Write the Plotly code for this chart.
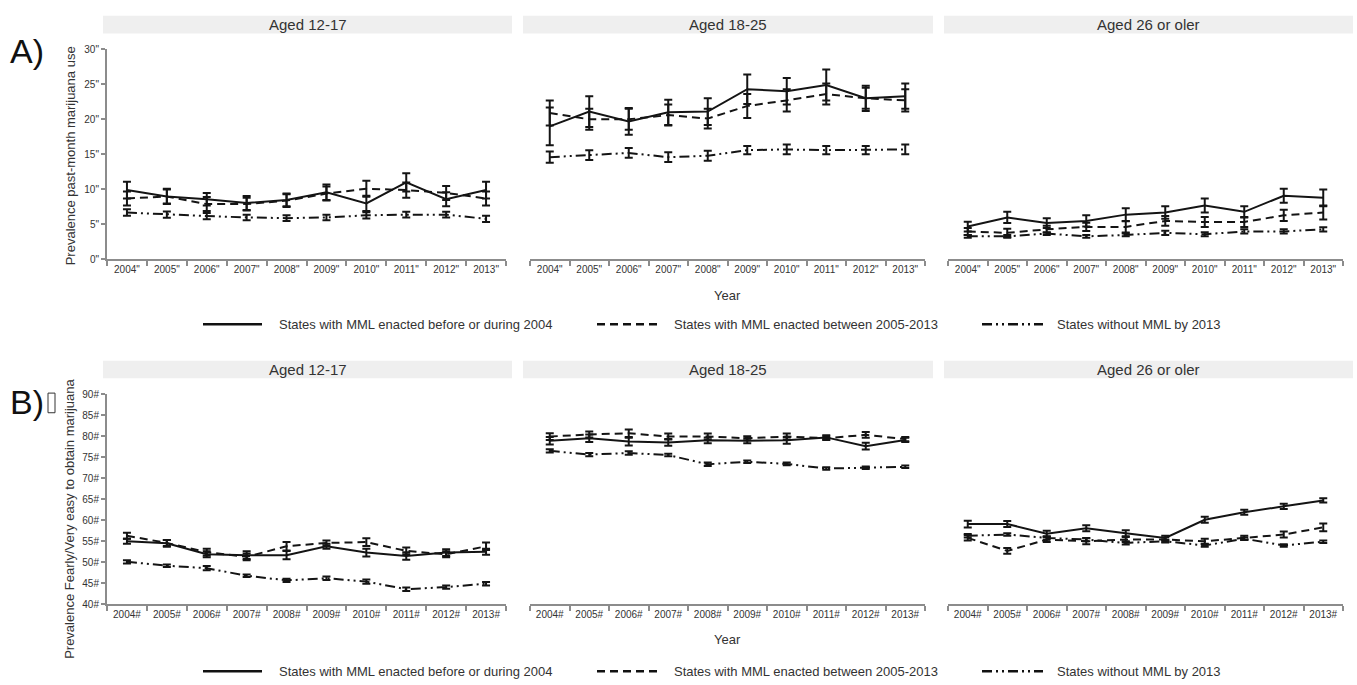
import plotly.graph_objects as go

W, H = 1357, 685

years = [2004, 2005, 2006, 2007, 2008, 2009, 2010, 2011, 2012, 2013]
ticks_a = [f'{y}"' for y in years]
ticks_b = [f'{y}#' for y in years]
age_groups = ["Aged 12-17", "Aged 18-25", "Aged 26 or oler"]
series_names = ["States with MML enacted before or during 2004",
                "States with MML enacted between 2005-2013",
                "States without MML by 2013"]

# Panel A: prevalence of past-month marijuana use (%)
a_1217_before = [9.9, 9.0, 8.6, 8.05, 8.5, 9.6, 8.0, 11.0, 8.6, 9.9]
a_1217_between = [8.7, 9.0, 7.9, 7.9, 8.4, 9.4, 10.1, 9.9, 9.5, 8.7]
a_1217_without = [6.7, 6.4, 6.2, 6.0, 5.9, 6.0, 6.3, 6.4, 6.4, 5.8]
a_1217_before_err = [1.2, 1.1, 0.9, 1.0, 0.9, 1.1, 1.1, 1.3, 1.0, 1.2]
a_1217_between_err = [1.0, 1.0, 1.0, 0.9, 0.9, 1.0, 1.15, 1.1, 1.0, 1.0]
a_1217_without_err = [0.45, 0.45, 0.45, 0.4, 0.4, 0.4, 0.45, 0.4, 0.4, 0.45]

a_1825_before = [19.0, 21.1, 19.7, 21.0, 21.1, 24.3, 24.0, 24.9, 23.0, 23.3]
a_1825_between = [20.9, 20.0, 20.0, 20.6, 20.1, 21.9, 22.7, 23.6, 23.0, 22.7]
a_1825_without = [14.6, 14.9, 15.2, 14.6, 14.8, 15.6, 15.7, 15.6, 15.6, 15.7]
a_1825_before_err = [2.7, 2.2, 1.9, 1.8, 1.9, 2.1, 1.9, 2.2, 1.8, 1.8]
a_1825_between_err = [1.8, 1.5, 1.5, 1.5, 1.4, 1.7, 1.6, 1.5, 1.5, 1.6]
a_1825_without_err = [0.8, 0.7, 0.7, 0.7, 0.7, 0.6, 0.7, 0.6, 0.6, 0.7]

a_26_before = [4.7, 6.0, 5.2, 5.5, 6.4, 6.7, 7.7, 6.8, 9.1, 8.8]
a_26_between = [4.0, 3.8, 4.3, 4.65, 4.65, 5.5, 5.35, 5.35, 6.3, 6.7]
a_26_without = [3.3, 3.3, 3.7, 3.3, 3.5, 3.8, 3.6, 4.0, 4.0, 4.3]
a_26_before_err = [0.7, 0.8, 0.7, 0.8, 0.9, 0.9, 1.0, 0.8, 1.0, 1.2]
a_26_between_err = [0.5, 0.6, 0.5, 0.6, 0.8, 0.7, 0.7, 0.7, 0.8, 1.0]
a_26_without_err = [0.2, 0.2, 0.2, 0.2, 0.2, 0.3, 0.3, 0.3, 0.3, 0.3]

# Panel B: prevalence fairly/very easy to obtain marijuana (%)
b_1217_before = [55.0, 54.5, 51.9, 51.7, 51.7, 53.8, 52.3, 51.5, 52.3, 52.5]
b_1217_between = [56.3, 54.6, 52.4, 51.3, 53.8, 54.6, 54.8, 52.7, 51.9, 53.8]
b_1217_without = [50.1, 49.2, 48.6, 46.8, 45.7, 46.2, 45.4, 43.6, 44.1, 44.9]
b_1217_before_err = [0.6, 0.8, 0.7, 0.9, 1.0, 0.6, 0.9, 0.9, 0.8, 0.7]
b_1217_between_err = [0.7, 0.7, 0.8, 0.8, 1.0, 0.6, 0.9, 0.8, 0.7, 0.9]
b_1217_without_err = [0.4, 0.3, 0.5, 0.3, 0.4, 0.4, 0.5, 0.4, 0.4, 0.4]

b_1825_before = [78.9, 79.5, 78.7, 78.5, 79.0, 78.9, 79.0, 79.7, 77.6, 79.1]
b_1825_between = [79.9, 80.4, 80.7, 79.9, 79.9, 79.5, 79.9, 79.5, 80.3, 79.3]
b_1825_without = [76.5, 75.6, 76.0, 75.5, 73.3, 73.9, 73.4, 72.3, 72.5, 72.7]
b_1825_before_err = [0.9, 0.9, 0.9, 0.8, 0.7, 0.6, 0.8, 0.5, 0.8, 0.5]
b_1825_between_err = [0.8, 0.7, 0.9, 0.7, 0.7, 0.5, 0.7, 0.4, 0.7, 0.5]
b_1825_without_err = [0.4, 0.4, 0.4, 0.3, 0.4, 0.3, 0.3, 0.3, 0.3, 0.3]

b_26_before = [59.1, 59.1, 56.8, 58.1, 56.9, 55.8, 60.1, 61.9, 63.3, 64.7]
b_26_between = [55.8, 52.7, 55.4, 55.0, 55.4, 55.4, 55.0, 55.8, 56.6, 58.3]
b_26_without = [56.3, 56.6, 55.8, 55.4, 54.6, 55.0, 54.0, 55.6, 54.0, 54.9]
b_26_before_err = [0.8, 0.7, 0.7, 0.7, 0.7, 0.5, 0.7, 0.6, 0.6, 0.5]
b_26_between_err = [0.6, 0.7, 0.6, 0.7, 0.6, 0.5, 0.6, 0.5, 0.7, 0.9]
b_26_without_err = [0.4, 0.3, 0.4, 0.4, 0.4, 0.3, 0.3, 0.3, 0.3, 0.3]

a_yticks = [0, 5, 10, 15, 20, 25, 30]
b_yticks = [40, 45, 50, 55, 60, 65, 70, 75, 80, 85, 90]

panels = [
    (1, ticks_a, [a_1217_before, a_1217_between, a_1217_without],
     [a_1217_before_err, a_1217_between_err, a_1217_without_err]),
    (2, ticks_a, [a_1825_before, a_1825_between, a_1825_without],
     [a_1825_before_err, a_1825_between_err, a_1825_without_err]),
    (3, ticks_a, [a_26_before, a_26_between, a_26_without],
     [a_26_before_err, a_26_between_err, a_26_without_err]),
    (4, ticks_b, [b_1217_before, b_1217_between, b_1217_without],
     [b_1217_before_err, b_1217_between_err, b_1217_without_err]),
    (5, ticks_b, [b_1825_before, b_1825_between, b_1825_without],
     [b_1825_before_err, b_1825_between_err, b_1825_without_err]),
    (6, ticks_b, [b_26_before, b_26_between, b_26_without],
     [b_26_before_err, b_26_between_err, b_26_without_err]),
]

DASHES = ["solid", "8px,5px", "10px,4px,2px,4px,2px,4px"]
LINE_COL = "#141414"

fig = go.Figure()
for idx, xt, vals, errs in panels:
    sfx = "" if idx == 1 else str(idx)
    for s in range(3):
        fig.add_trace(go.Scatter(
            x=xt, y=vals[s], mode="lines", name=series_names[s],
            line=dict(color=LINE_COL, width=2, dash=DASHES[s]),
            error_y=dict(type="data", array=errs[s], visible=True,
                         color=LINE_COL, thickness=2, width=4),
            xaxis="x" + sfx, yaxis="y" + sfx, showlegend=False,
            hoverinfo="x+y"))

def px_x(p):
    return p / W

def px_y(p):
    return 1 - p / H

x_domains = [(107, 506), (530, 925), (948, 1343)]
y_dom_a = (258, 44)
y_dom_b = (609, 395)

layout = dict(width=W, height=H, margin=dict(l=0, r=0, t=0, b=0),
              paper_bgcolor="white", plot_bgcolor="white",
              font=dict(family="Liberation Sans, Arial", color="#333"),
              showlegend=False)

tick_font = dict(family="Liberation Sans, Arial", size=10, color="#333")

for idx in range(1, 7):
    sfx = "" if idx == 1 else str(idx)
    col = (idx - 1) % 3
    top = idx <= 3
    xd = x_domains[col]
    yd = y_dom_a if top else y_dom_b
    layout["xaxis" + sfx] = dict(
        domain=[px_x(xd[0]), px_x(xd[1])],
        anchor="y" + sfx, type="category",
        range=[-0.5, 9.5], showline=True, linecolor="#8c8c8c", linewidth=2,
        ticks="outside", tickson="boundaries", ticklen=5, tickwidth=2,
        tickcolor="#8c8c8c", showgrid=False, zeroline=False,
        tickfont=tick_font, fixedrange=True)
    yax = dict(
        domain=[px_y(yd[0]), px_y(yd[1])], anchor="x" + sfx,
        showgrid=False, zeroline=False, fixedrange=True)
    yax["range"] = [0, 30] if top else [40, 90]
    if col == 0:
        tv = a_yticks if top else b_yticks
        suffix = '"' if top else "#"
        yax.update(showline=True, linecolor="#8c8c8c", linewidth=2,
                   ticks="outside", ticklen=4, tickwidth=1.5,
                   tickcolor="#8c8c8c", tickvals=tv,
                   ticktext=[f"{v}{suffix}" for v in tv],
                   tickfont=tick_font)
    else:
        yax.update(visible=False)
    layout["yaxis" + sfx] = yax

shapes = []
annotations = []

strips = [(103, 512), (523, 933), (944, 1353)]
for row_top in (10, 361):
    for i, (x0, x1) in enumerate(strips):
        shapes.append(dict(type="rect", xref="paper", yref="paper",
                           x0=px_x(x0), x1=px_x(x1),
                           y0=px_y(row_top + 18), y1=px_y(row_top),
                           fillcolor="#efefef", line=dict(width=0),
                           layer="below"))
        annotations.append(dict(text=age_groups[i], xref="paper", yref="paper",
                                x=px_x((x0 + x1) / 2), y=px_y(row_top + 9),
                                showarrow=False, xanchor="center",
                                yanchor="middle",
                                font=dict(size=15, color="#333")))

annotations.append(dict(text="A)", xref="paper", yref="paper",
                        x=px_x(8), y=px_y(46), xanchor="left",
                        yanchor="middle", showarrow=False,
                        font=dict(size=34, color="#111",
                                  family="Liberation Sans, Arial")))
annotations.append(dict(text="B)", xref="paper", yref="paper",
                        x=px_x(8), y=px_y(403), xanchor="left",
                        yanchor="middle", showarrow=False,
                        font=dict(size=34, color="#111",
                                  family="Liberation Sans, Arial")))
shapes.append(dict(type="rect", xref="paper", yref="paper",
                   x0=px_x(48), x1=px_x(55), y0=px_y(414), y1=px_y(394),
                   line=dict(color="#333", width=1)))

annotations.append(dict(text="Prevalence past-month marijuana use",
                        xref="paper", yref="paper", x=px_x(70), y=px_y(153),
                        textangle=-90, showarrow=False, xanchor="center",
                        yanchor="middle", font=dict(size=13, color="#333")))
annotations.append(dict(text="Prevalence Fearly/Very easy to obtain marijuana",
                        xref="paper", yref="paper", x=px_x(70), y=px_y(522),
                        textangle=-90, showarrow=False, xanchor="center",
                        yanchor="middle", font=dict(size=13, color="#333")))

for yy in (295, 645):
    annotations.append(dict(text="Year", xref="paper", yref="paper",
                            x=px_x(727), y=px_y(yy), showarrow=False,
                            xanchor="center", yanchor="middle",
                            font=dict(size=13, color="#333")))

leg_items = [((203, 262), 277), ((597, 658), 672), ((982, 1043), 1055)]
for ly in (324, 677):
    for s, ((lx0, lx1), tx) in enumerate(leg_items):
        shapes.append(dict(type="line", xref="paper", yref="paper",
                           x0=px_x(lx0), x1=px_x(lx1), y0=px_y(ly), y1=px_y(ly),
                           line=dict(color="#111", width=2.5, dash=DASHES[s])))
        annotations.append(dict(text=series_names[s], xref="paper",
                                yref="paper", x=px_x(tx), y=px_y(ly),
                                showarrow=False, xanchor="left",
                                yanchor="middle",
                                font=dict(size=13, color="#333")))

layout["shapes"] = shapes
layout["annotations"] = annotations
fig.update_layout(**layout)

fig.write_html("out.html",
               config={"displayModeBar": False},
               post_script="document.body.style.margin='0';"
                           "document.body.style.overflow='hidden';")
